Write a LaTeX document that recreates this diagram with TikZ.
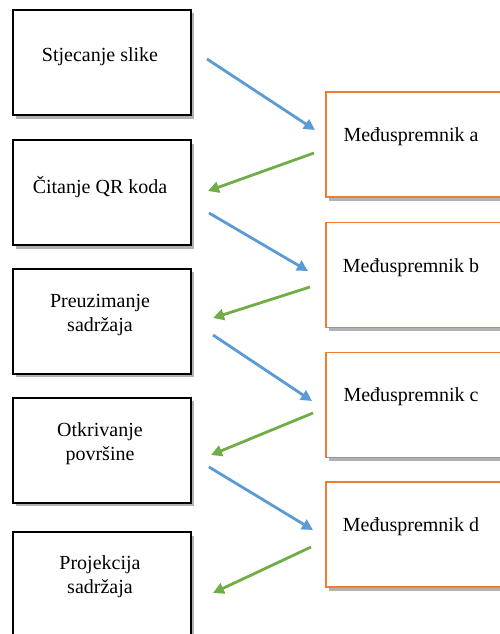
\documentclass[tikz,border=0pt]{standalone}
\usepackage{fontspec}
\setmainfont{Liberation Serif}
\usepackage{xcolor}
\usetikzlibrary{shadows,arrows.meta}
\definecolor{fwdblue}{RGB}{91,155,213}
\definecolor{backgreen}{RGB}{112,173,71}
\definecolor{buforange}{RGB}{237,125,49}
\tikzset{box/.style={rectangle,draw=black,line width=2pt,fill=white,minimum width=178pt,minimum height=105pt,inner sep=0pt,outer sep=0pt,general shadow={shadow xshift=3pt,shadow yshift=-3.5pt,fill=black!30}}}
\tikzset{buf/.style={box,draw=buforange,line width=1.8pt,minimum width=186pt}}
\tikzset{txt/.style={align=center,font=\fontsize{20}{24}\selectfont,inner sep=0pt}}
\tikzset{fwd/.style={fwdblue,line width=2.8pt,-{Triangle[length=11pt,width=11pt]}}}
\tikzset{back/.style={backgreen,line width=2.8pt,-{Triangle[length=11pt,width=11pt]}}}

\begin{document}
\begin{tikzpicture}[x=1pt,y=-1pt]
    \useasboundingbox (0,0) rectangle (499,634);
    \node[box] (a)at (102,62.5) {};
    \node[box] (b)at (102,192.5) {};
    \node[box] (c)at (102,321) {};
    \node[box] (d)at (102,450) {};
    \node[box] (e)at (102,584.5) {};
    \node[buf] (ba)at (419,144.5) {};
    \node[buf] (bb)at (419,275) {};
    \node[buf] (bc)at (419,405) {};
    \node[buf] (bd)at (419,534.5) {};

    \node[txt] (ta)at ([xshift=-2pt,yshift=5.5pt]a.center) {Stjecanje slike};
    \node[txt] (tb)at ([xshift=-2pt,yshift=5.5pt]b.center) {Čitanje QR koda};
    \node[txt] (tc)at ([xshift=-2pt,yshift=6pt]c.center) {Preuzimanje\\sadržaja};
    \node[txt] (td)at ([xshift=-2pt,yshift=6pt]d.center) {Otkrivanje\\površine};
    \node[txt] (te)at ([xshift=-2pt,yshift=7.5pt]e.center) {Projekcija\\sadržaja};
    \node[txt] (tba)at ([xshift=-8pt,yshift=7.5pt]ba.center) {Međuspremnik a};
    \node[txt] (tbb)at ([xshift=-8pt,yshift=7pt]bb.center) {Međuspremnik b};
    \node[txt] (tbc)at ([xshift=-8pt,yshift=8pt]bc.center) {Međuspremnik c};
    \node[txt] (tbd)at ([xshift=-8pt,yshift=7.5pt]bd.center) {Međuspremnik d};

    \draw [fwd] ([xshift=16pt,yshift=3.5pt]a.east) to ([xshift=-11pt,yshift=14.5pt]ba.west);
    \draw [back] ([xshift=-12pt,yshift=-8.5pt]ba.west) to ([xshift=17pt,yshift=1.5pt]b.east);
    \draw [fwd] ([xshift=18pt,yshift=-20.5pt]b.east) to ([xshift=-18pt,yshift=4pt]bb.west);
    \draw [back] ([xshift=-16pt,yshift=-12pt]bb.west) to ([xshift=22pt,yshift=3pt]c.east);
    \draw [fwd] ([xshift=22pt,yshift=-14pt]c.east) to ([xshift=-14pt,yshift=4pt]bc.west);
    \draw [back] ([xshift=-13pt,yshift=-8pt]bc.west) to ([xshift=20pt,yshift=-5pt]d.east);
    \draw [fwd] ([xshift=18pt,yshift=-17pt]d.east) to ([xshift=-13pt,yshift=4.5pt]bd.west);
    \draw [back] ([xshift=-15pt,yshift=-12.5pt]bd.west) to ([xshift=22pt,yshift=-8.5pt]e.east);
\end{tikzpicture}
\end{document}
